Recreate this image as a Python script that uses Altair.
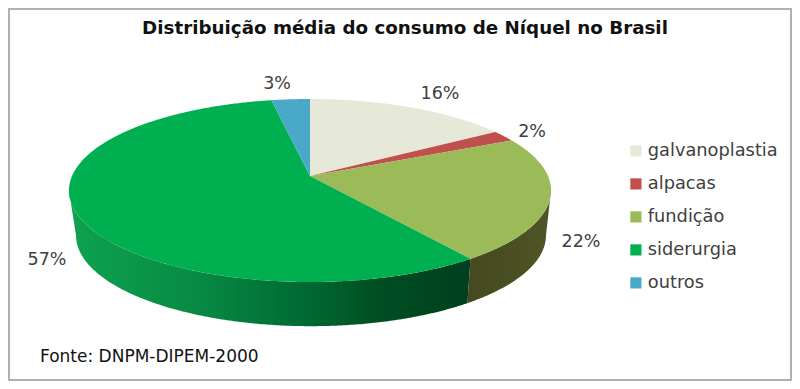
import math
import altair as alt
import pandas as pd

categories = ["galvanoplastia", "alpacas", "fundição", "siderurgia", "outros"]
values = [16, 2, 22, 57, 3]
colors = ["#e6e8d8", "#c0504d", "#9bbb59", "#00b050", "#4aa9c9"]
label_text = ["16%", "2%", "22%", "57%", "3%"]

# layout (pixels inside the chart; the page adds an 8px margin)
W, H = 784, 373
OFF = 8
K = 0.1585
TOP = dict(cx=310 - OFF, cy=176 - OFF, sx=238, sy=89.2)
BOT = dict(cx=311 - OFF, cy=221 - OFF, sx=232, sy=88.5)
label_px = [440 - OFF, 532 - OFF, 581 - OFF, 47 - OFF, 277 - OFF]
label_py = [94 - OFF, 132 - OFF, 242 - OFF, 260 - OFF, 84 - OFF]


def project(theta_deg, rim):
    t = math.radians(theta_deg)
    u, v = math.sin(t), math.cos(t)
    d = 1 + K * v
    return [rim["cx"] + rim["sx"] * u / d, rim["cy"] - rim["sy"] * v / d]


def sweep(a, b):
    n = max(2, int(abs(b - a)) * 2)
    return [a + (b - a) * i / n for i in range(n + 1)]


def feature(name, ring):
    return {
        "type": "Feature",
        "properties": {"name": name},
        "geometry": {"type": "Polygon", "coordinates": [ring + [ring[0]]]},
    }


def wall(name, a, b):
    ring = [project(t, TOP) for t in sweep(a, b)] + [
        project(t, BOT) for t in sweep(b, a)
    ]
    return feature(name, ring)


total = sum(values)
edges = [0]
for v in values:
    edges.append(edges[-1] + v / total * 360)

slices = []
for i, name in enumerate(categories):
    ring = [[TOP["cx"], TOP["cy"]]] + [
        project(t, TOP) for t in sweep(edges[i], edges[i + 1])
    ]
    slices.append(feature(name, ring))

right_limb = 90 + math.degrees(math.asin(K))
left_limb = 360 - right_limb


def geo(features):
    return alt.InlineData(
        values={"type": "FeatureCollection", "features": features},
        format=alt.DataFormat(property="features", type="json"),
    )


def proj(c):
    return c.project(type="identity", scale=1, translate=[0, 0])


frame = alt.Chart(pd.DataFrame({"a": [0]})).mark_rect(
    filled=False, stroke="#b0b0b0", strokeWidth=2
).encode(
    x=alt.value(1), x2=alt.value(W - 1), y=alt.value(1), y2=alt.value(H - 1)
)

wall_a = proj(alt.Chart(geo([wall("fundição", right_limb, edges[3])])).mark_geoshape(
    fill=alt.Gradient(
        gradient="linear", x1=0, x2=1, y1=0, y2=0,
        stops=[
            alt.GradientStop(offset=0, color="#45491f"),
            alt.GradientStop(offset=1, color="#4f5526"),
        ],
    ),
    strokeWidth=0,
))

wall_b = proj(alt.Chart(geo([wall("siderurgia", edges[3], left_limb)])).mark_geoshape(
    fill=alt.Gradient(
        gradient="linear", x1=0, x2=1, y1=0, y2=0,
        stops=[
            alt.GradientStop(offset=0, color="#0ea250"),
            alt.GradientStop(offset=0.3, color="#088c44"),
            alt.GradientStop(offset=0.55, color="#006f35"),
            alt.GradientStop(offset=0.78, color="#004d22"),
            alt.GradientStop(offset=1, color="#003f1e"),
        ],
    ),
    strokeWidth=0,
))

top = proj(alt.Chart(geo(slices)).mark_geoshape(strokeWidth=0).encode(
    color=alt.Color(
        "properties.name:N",
        scale=alt.Scale(domain=categories, range=colors),
        sort=categories,
        legend=alt.Legend(
            title=None,
            orient="none",
            legendX=619,
            legendY=134,
            symbolType="square",
            symbolSize=125,
            symbolStrokeWidth=0,
            labelFont="DejaVu Sans",
            labelFontSize=17.8,
            labelColor="#404040",
            labelOffset=3,
            rowPadding=14,
        ),
    )
))

labels_df = pd.DataFrame({"t": label_text, "px": label_px, "py": label_py})
labels = alt.Chart(labels_df).mark_text(
    font="DejaVu Sans", fontSize=17.5, color="#404040", align="center", baseline="middle"
).encode(
    x=alt.X("px:Q", scale=None, axis=None),
    y=alt.Y("py:Q", scale=None, axis=None),
    text="t:N",
)

source = alt.Chart(pd.DataFrame({"t": ["Fonte: DNPM-DIPEM-2000"]})).mark_text(
    font="DejaVu Sans", fontSize=17, color="#111111", align="left", baseline="alphabetic"
).encode(x=alt.value(40 - OFF), y=alt.value(362 - OFF), text="t:N")

chart = alt.layer(frame, wall_a, wall_b, top, labels, source).properties(
    width=W,
    height=H,
    padding=0,
    autosize=alt.AutoSizeParams(type="none"),
    background="white",
    title=alt.TitleParams(
        "Distribuição média do consumo de Níquel no Brasil",
        font="DejaVu Sans",
        fontSize=18.3,
        fontWeight="bold",
        color="#111111",
        anchor="middle",
        frame="group",
        dx=5,
        dy=34,
    ),
).configure_view(stroke=None)

chart.save("out.html", embed_options={"renderer": "svg", "actions": False})
